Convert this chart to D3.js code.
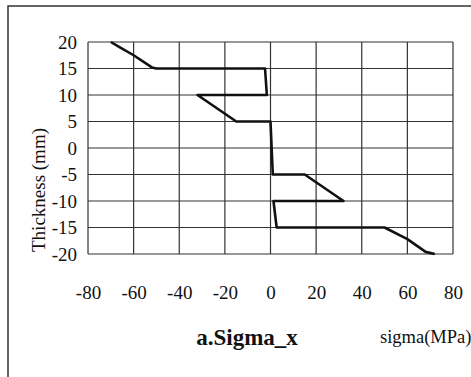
<!DOCTYPE html>
<html>
<head>
<meta charset="utf-8">
<script src="https://cdn.jsdelivr.net/npm/d3@7"></script>
<style>
  body { margin: 0; background: #fff; }
  svg { display: block; font-family: "Liberation Serif", "Times New Roman", serif; }
</style>
</head>
<body>
<div id="chart"></div>
<script>
// stress profile through the thickness (sigma in MPa, thickness in mm)
var sigma = [-70, -66, -60, -52, -50, -2.4, -1.6, -32, -15, 0, 0.5, 1, 15, 32, 1.3, 2.7, 50, 60, 68, 72];
var thick = [20, 19, 17.5, 15.2, 15, 15, 10, 10, 5, 5, 0, -5, -5, -10, -10, -15, -15, -17.2, -19.6, -20];
var xTicks = [-80, -60, -40, -20, 0, 20, 40, 60, 80];
var yTicks = [20, 15, 10, 5, 0, -5, -10, -15, -20];

var w = 471,
  h = 377,
  plotL = 88,
  plotR = 453,
  plotT = 42,
  plotB = 254,
  x = d3.scaleLinear().domain([-80, 80]).range([plotL, plotR]),
  y = d3.scaleLinear().domain([-20, 20]).range([plotB, plotT]);

var chart = d3.select("#chart").
append("svg").
attr("width", w).
attr("height", h);

// frame round the figure (top and left edges only are visible)
chart.append("path").
attr("d", "M8," + h + "V6H" + w).
attr("fill", "none").
attr("stroke", "#333").
attr("stroke-width", 1.5);

var grid = chart.append("g");

grid.selectAll("line.v").
data(xTicks).
enter().append("line").
attr("class", "v").
attr("x1", function(d) { return x(d); }).
attr("x2", function(d) { return x(d); }).
attr("y1", plotT).
attr("y2", plotB).
attr("stroke", "#333").
attr("stroke-width", 1.2);

grid.selectAll("line.h").
data(yTicks).
enter().append("line").
attr("class", "h").
attr("x1", plotL).
attr("x2", plotR).
attr("y1", function(d) { return y(d); }).
attr("y2", function(d) { return y(d); }).
attr("stroke", "#333").
attr("stroke-width", 1.2);

var xAxis = d3.axisBottom(x).tickValues(xTicks).tickSize(0).tickPadding(0).tickFormat(String);
var yAxis = d3.axisLeft(y).tickValues(yTicks).tickSize(0).tickPadding(0).tickFormat(String);

var gx = chart.append("g").
attr("transform", "translate(0," + (plotB + 31) + ")").
call(xAxis);

var gy = chart.append("g").
attr("transform", "translate(" + (plotL - 11) + ",0)").
call(yAxis);

[gx, gy].forEach(function(g) {
  g.select(".domain").remove();
  g.selectAll("text").
  attr("fill", "#111").
  attr("font-family", "Liberation Serif, serif").
  attr("font-size", 19);
});
gx.selectAll("text").attr("dy", "0.71em").attr("y", 0);

var line = d3.line()
  .x(function(d) { return x(d[0]); })
  .y(function(d) { return y(d[1]); });

chart.append("path").
attr("d", line(d3.zip(sigma, thick))).
attr("fill", "none").
attr("stroke", "#111").
attr("stroke-width", 2.6).
attr("stroke-linejoin", "round");

chart.append("text").
attr("transform", "translate(45,190) rotate(-90)").
attr("text-anchor", "middle").
attr("font-size", 19).
attr("fill", "#111").
text("Thickness (mm)");

chart.append("text").
attr("x", 247).
attr("y", 345).
attr("text-anchor", "middle").
attr("font-size", 23).
attr("font-weight", "bold").
attr("fill", "#111").
text("a.Sigma_x");

chart.append("text").
attr("x", 380).
attr("y", 343).
attr("font-size", 18.5).
attr("fill", "#111").
text("sigma(MPa)");
</script>
</body>
</html>
